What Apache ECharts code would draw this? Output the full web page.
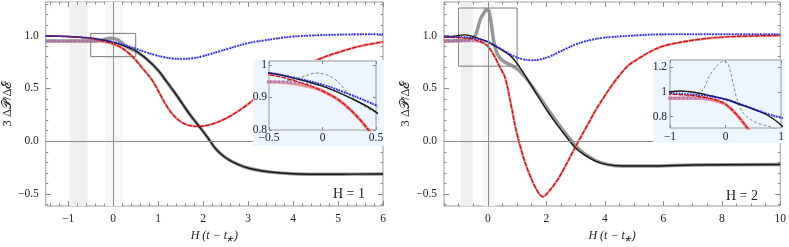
<!DOCTYPE html>
<html><head><meta charset="utf-8">
<script src="https://cdn.jsdelivr.net/npm/echarts@6/dist/echarts.min.js"></script>
<style>html,body{margin:0;padding:0;background:#fff}#c{width:789px;height:247px}</style>
</head><body><div id="c"></div>
<script>
// ---------- data ----------
// H = 1 panel
const blackL = [[-1.5,0.995],[-1,0.99],[-0.5,0.975],[-0.25,0.958],[0,0.935],[0.25,0.9],[0.5,0.855],[0.75,0.775],[1,0.67],[1.17,0.574],[1.35,0.47],[1.53,0.36],[1.7,0.255],[1.9,0.146],[2.1,0.035],[2.27,-0.067],[2.45,-0.14],[2.63,-0.19],[2.9,-0.24],[3.14,-0.268],[3.5,-0.292],[4,-0.308],[4.5,-0.312],[5,-0.312],[6,-0.31]];
const grayL = [[-1.5,0.948],[-0.5,0.948],[-0.35,0.95],[-0.2,0.962],[-0.06,0.975],[0.1,0.96],[0.25,0.91],[0.4,0.87],[0.5,0.852],[0.75,0.775],[1,0.67],[1.17,0.574],[1.35,0.47],[1.53,0.36],[1.7,0.255],[1.9,0.146],[2.1,0.035],[2.27,-0.067],[2.45,-0.14],[2.63,-0.19],[2.9,-0.24],[3.14,-0.268],[3.5,-0.292],[4,-0.308],[4.5,-0.312],[5,-0.312],[6,-0.31]];
const blueL = [[-1.5,0.995],[-1,0.99],[-0.5,0.976],[-0.25,0.96],[0,0.94],[0.25,0.91],[0.5,0.876],[0.75,0.838],[1,0.808],[1.25,0.786],[1.53,0.778],[1.8,0.787],[2,0.805],[2.5,0.868],[3,0.928],[3.3,0.95],[4,0.99],[5,1.008],[6,1.012]];
const blueThickL = [[-1.5,0.948],[-0.5,0.948],[-0.25,0.946],[0,0.937],[0.25,0.91],[0.5,0.876],[0.75,0.838],[1,0.808],[1.25,0.786],[1.53,0.778],[1.8,0.787],[2,0.805],[2.5,0.868],[3,0.928],[3.3,0.95],[4,0.99],[5,1.008],[6,1.012]];
const redL = [[-1.5,0.995],[-1,0.99],[-0.5,0.97],[-0.25,0.95],[0,0.92],[0.2,0.88],[0.43,0.8],[0.65,0.69],[0.87,0.574],[1.17,0.345],[1.35,0.24],[1.53,0.177],[1.7,0.148],[1.9,0.14],[2.1,0.15],[2.35,0.185],[2.63,0.245],[2.9,0.32],[3.14,0.4],[3.5,0.53],[4,0.665],[4.64,0.787],[5,0.84],[5.5,0.9],[6,0.94]];
const pinkL = [[-1.5,0.948],[-0.5,0.948],[-0.3,0.944],[-0.15,0.935],[0,0.92],[0.2,0.88],[0.43,0.8],[0.65,0.69],[0.87,0.574],[1.17,0.345],[1.35,0.24],[1.53,0.177],[1.7,0.148],[1.9,0.14],[2.1,0.15],[2.35,0.185],[2.63,0.245],[2.9,0.32],[3.14,0.4],[3.5,0.53],[4,0.665],[4.64,0.787],[5,0.84],[5.5,0.9],[6,0.94]];
// H = 2 panel
const blackR = [[-1.5,0.985],[-1.2,0.99],[-0.8,1.006],[-0.5,0.99],[-0.25,0.966],[0,0.94],[0.25,0.9],[0.5,0.86],[0.76,0.812],[1,0.735],[1.22,0.645],[1.5,0.52],[1.75,0.41],[2,0.3],[2.3,0.18],[2.56,0.085],[2.8,0.0],[3,-0.065],[3.3,-0.13],[3.7,-0.19],[4.1,-0.222],[4.6,-0.235],[5.5,-0.235],[7,-0.225],[10,-0.22]];
const grayR = [[-1.5,0.948],[-0.8,0.955],[-0.6,0.97],[-0.43,1.0],[-0.26,1.15],[-0.1,1.23],[-0.03,1.245],[0.05,1.22],[0.2,0.95],[0.3,0.84],[0.42,0.787],[0.6,0.745],[0.76,0.726],[0.95,0.695],[1.1,0.66],[1.3,0.6],[1.5,0.525],[1.75,0.425],[2,0.325],[2.3,0.205],[2.56,0.108],[2.8,0.025],[3,-0.045],[3.3,-0.118],[3.7,-0.185],[4.1,-0.22],[4.6,-0.235],[5.5,-0.235],[7,-0.225],[10,-0.22]];
const blueR = [[-1.5,0.99],[-1,0.988],[-0.5,0.975],[0,0.94],[0.4,0.88],[0.76,0.822],[1,0.792],[1.22,0.774],[1.5,0.766],[1.8,0.775],[2.1,0.8],[2.56,0.86],[3,0.915],[3.47,0.955],[4,0.98],[5,1.0],[5.75,1.01],[7,1.012],[10,1.012]];
const blueThickR = [[-1.5,0.948],[-0.5,0.948],[-0.2,0.945],[0,0.938],[0.4,0.88],[0.76,0.822],[1,0.792],[1.22,0.774],[1.5,0.766],[1.8,0.775],[2.1,0.8],[2.56,0.86],[3,0.915],[3.47,0.955],[4,0.98],[5,1.0],[5.75,1.01],[7,1.012],[10,1.012]];
const redR = [[-1.5,0.985],[-1,0.98],[-0.6,0.97],[-0.37,0.954],[-0.15,0.93],[0,0.9],[0.2,0.817],[0.42,0.695],[0.59,0.6],[0.78,0.36],[0.97,0.1],[1.2,-0.14],[1.42,-0.31],[1.65,-0.45],[1.88,-0.525],[2.1,-0.47],[2.35,-0.38],[2.56,-0.28],[2.85,-0.13],[3.1,0.0],[3.4,0.15],[3.7,0.3],[4.0,0.43],[4.27,0.54],[4.55,0.64],[4.84,0.725],[5.2,0.79],[5.5,0.84],[6,0.9],[7,0.955],[8,0.985],[9,0.995],[10,1.0]];
const pinkR = [[-1.5,0.948],[-0.5,0.948],[-0.3,0.94],[-0.1,0.918],[0,0.9],[0.2,0.817],[0.42,0.695],[0.59,0.6],[0.78,0.36],[0.97,0.1],[1.2,-0.14],[1.42,-0.31],[1.65,-0.45],[1.88,-0.525],[2.1,-0.47],[2.35,-0.38],[2.56,-0.28],[2.85,-0.13],[3.1,0.0],[3.4,0.15],[3.7,0.3],[4.0,0.43],[4.27,0.54],[4.55,0.64],[4.84,0.725],[5.2,0.79],[5.5,0.84],[6,0.9],[7,0.955],[8,0.985],[9,0.995],[10,1.0]];

// tick labels
const yTicksMain = [-0.5, 0, 0.5, 1.0];
const yLabelsMain = ['\u22120.5', '0.0', '0.5', '1.0'];
const xTicksL = [-1, 0, 1, 2, 3, 4, 5, 6];
const xLabelsL = ['\u22121', '0', '1', '2', '3', '4', '5', '6'];
const xTicksR = [0, 2, 4, 6, 8, 10];
const xLabelsR = ['0', '2', '4', '6', '8', '10'];
const xTicksInsL = [-0.5, 0, 0.5];
const xLabelsInsL = ['\u22120.5', '0', '0.5'];
const yTicksInsL = [0.8, 0.9, 1];
const yLabelsInsL = ['0.8', '0.9', '1'];
const xTicksInsR = [-1, 0, 1];
const xLabelsInsR = ['\u22121', '0', '1'];
const yTicksInsR = [0.8, 1, 1.2];
const yLabelsInsR = ['0.8', '1', '1.2'];
const panelLabels = ['H = 1', 'H = 2'];

// ---------- chart ----------
const FONT = "'Liberation Serif', 'Times New Roman', Times, serif";
const TICK = '#8a8a8a';
function steps(a, b, s) { const r = []; for (let v = Math.ceil(a / s - 1e-9) * s; v <= b + 1e-9; v += s) r.push(+v.toFixed(6)); return r; }
function fmt(vals, labels) { return v => { for (let i = 0; i < vals.length; i++) if (Math.abs(vals[i] - v) < 1e-6) return labels[i]; return ''; }; }

const grids = [], xAxes = [], yAxes = [], series = [];
function addPanel(cfg) {
  const g = grids.length;
  grids.push(Object.assign({ show: true, borderColor: '#9a9a9a', borderWidth: 1, backgroundColor: 'transparent', z: cfg.z }, cfg.rect));
  const xi = xAxes.length, yi = yAxes.length;
  const base = (min, max) => ({ gridIndex: g, type: 'value', min, max, z: cfg.z + 1, axisLine: { show: false, onZero: false }, splitLine: { show: false } });
  const tick = (vals, len) => ({ show: true, inside: true, length: len, customValues: vals, lineStyle: { color: TICK, width: 1 } });
  const lab = { fontFamily: FONT, fontSize: cfg.fs, color: '#222' };
  xAxes.push(Object.assign(base(cfg.xr[0], cfg.xr[1]), { position: 'bottom', offset: 0, axisTick: tick(cfg.xMaj, cfg.tl), axisLabel: Object.assign({ show: true, customValues: cfg.xMaj, formatter: fmt(cfg.xMaj, cfg.xLab), margin: cfg.lm }, lab), name: cfg.xName || '', nameLocation: 'middle', nameGap: 24, nameTextStyle: { fontFamily: FONT, fontSize: 12, fontStyle: 'italic', color: '#222' } }));
  xAxes.push(Object.assign(base(cfg.xr[0], cfg.xr[1]), { position: 'bottom', offset: 0, axisTick: tick(cfg.xMin, cfg.tl / 2), axisLabel: { show: false } }));
  xAxes.push(Object.assign(base(cfg.xr[0], cfg.xr[1]), { position: 'top', offset: 0, axisTick: tick(cfg.xMaj, cfg.tl), axisLabel: { show: false } }));
  xAxes.push(Object.assign(base(cfg.xr[0], cfg.xr[1]), { position: 'top', offset: 0, axisTick: tick(cfg.xMin, cfg.tl / 2), axisLabel: { show: false } }));
  yAxes.push(Object.assign(base(cfg.yr[0], cfg.yr[1]), { position: 'left', offset: 0, axisTick: tick(cfg.yMaj, cfg.tl), axisLabel: Object.assign({ show: true, customValues: cfg.yMaj, formatter: fmt(cfg.yMaj, cfg.yLab), margin: cfg.lm }, lab), name: cfg.yName || '', nameLocation: 'middle', nameGap: 24, nameTextStyle: { fontFamily: FONT, fontSize: 12.5, color: '#222' } }));
  yAxes.push(Object.assign(base(cfg.yr[0], cfg.yr[1]), { position: 'left', offset: 0, axisTick: tick(cfg.yMin, cfg.tl / 2), axisLabel: { show: false } }));
  yAxes.push(Object.assign(base(cfg.yr[0], cfg.yr[1]), { position: 'right', offset: 0, axisTick: tick(cfg.yMaj, cfg.tl), axisLabel: { show: false } }));
  yAxes.push(Object.assign(base(cfg.yr[0], cfg.yr[1]), { position: 'right', offset: 0, axisTick: tick(cfg.yMin, cfg.tl / 2), axisLabel: { show: false } }));
  return { xi, yi, z: cfg.z };
}
function line(p, data, style, z) {
  series.push({ type: 'line', xAxisIndex: p.xi, yAxisIndex: p.yi, data, smooth: 0.35, symbol: 'none', silent: true, z: p.z + (z || 2), lineStyle: style, clip: true });
}
function decor(p, marks) {
  series.push({ type: 'line', xAxisIndex: p.xi, yAxisIndex: p.yi, data: [], symbol: 'none', silent: true, z: p.z + 1,
    markArea: marks.areas ? { silent: true, data: marks.areas } : undefined,
    markLine: marks.lines ? { silent: true, symbol: 'none', label: { show: false }, lineStyle: { color: '#8c8c8c', width: 1, type: 'solid' }, data: marks.lines } : undefined });
}

const yrMain = [-0.613, 1.317];
const yName = '3 \u0394\uD835\uDCAB/\u0394\u2130';
const xName = 'H (t \u2212 t\u204E)';
const pL = addPanel({ rect: { left: 42, top: 2, width: 341, height: 211 }, z: 0, xr: [-1.5, 6], yr: yrMain, xMaj: xTicksL, xLab: xLabelsL, xMin: steps(-1.5, 6, 0.2), yMaj: yTicksMain, yLab: yLabelsMain, yMin: steps(-0.6, 1.3, 0.1), fs: 11.5, tl: 5, lm: 7, xName, yName });
const pR = addPanel({ rect: { left: 444, top: 2, width: 338, height: 211 }, z: 0, xr: [-1.5, 10], yr: yrMain, xMaj: xTicksR, xLab: xLabelsR, xMin: steps(-1.5, 10, 0.5), yMaj: yTicksMain, yLab: yLabelsMain, yMin: steps(-0.6, 1.3, 0.1), fs: 11.5, tl: 5, lm: 7, xName, yName });
const iL = addPanel({ rect: { left: 269, top: 61, width: 107, height: 69 }, z: 20, xr: [-0.5, 0.5], yr: [0.8, 1.012], xMaj: xTicksInsL, xLab: xLabelsInsL, xMin: [], yMaj: yTicksInsL, yLab: yLabelsInsL, yMin: [], fs: 11.5, tl: 3, lm: 2 });
const iR = addPanel({ rect: { left: 670, top: 60, width: 111, height: 68 }, z: 20, xr: [-1, 1], yr: [0.71, 1.254], xMaj: xTicksInsR, xLab: xLabelsInsR, xMin: [], yMaj: yTicksInsR, yLab: yLabelsInsR, yMin: [], fs: 11.5, tl: 3, lm: 3 });

decor(pL, { areas: [[{ xAxis: -0.97, itemStyle: { color: '#efefef' } }, { xAxis: -0.57 }], [{ xAxis: -0.18, itemStyle: { color: '#f7f7f7' } }, { xAxis: 0.21 }]], lines: [{ xAxis: 0 }, { yAxis: 0 }] });
decor(pR, { areas: [[{ xAxis: -0.93, itemStyle: { color: '#efefef' } }, { xAxis: -0.52 }], [{ xAxis: -0.17, itemStyle: { color: '#f7f7f7' } }, { xAxis: 0.23 }]], lines: [{ xAxis: 0 }, { yAxis: 0 }] });
decor(iL, { lines: [{ xAxis: 0 }] });
decor(iR, { lines: [{ xAxis: 0 }] });

const sThickGray = { color: 'rgba(125,125,125,0.8)', width: 3.4 };
const sPink = { color: 'rgba(238,110,115,0.6)', width: 2.6 };
const sBlueThick = { color: 'rgba(110,110,235,0.6)', width: 2.6, type: [2, 2] };
const sBlack = { color: '#151515', width: 1.4 };
const sBlue = { color: '#2020dd', width: 1.6, type: [1.6, 1.2] };
const sRed = { color: '#d01010', width: 1.4, type: [5, 1] };
const sGrayDash = { color: '#8a8a8a', width: 1, type: [3, 2] };

[[pL, blackL, grayL, blueL, blueThickL, redL, pinkL, false], [pR, blackR, grayR, blueR, blueThickR, redR, pinkR, false],
 [iL, blackL, grayL, blueL, blueThickL, redL, pinkL, true], [iR, blackR, grayR, blueR, blueThickR, redR, pinkR, true]].forEach(([p, bk, gy, bl, blt, rd, pk, inset]) => {
  line(p, gy, inset ? sGrayDash : sThickGray, 2);
  line(p, pk, inset ? { color: 'rgba(238,110,115,0.7)', width: 3.4 } : sPink, 2);
  line(p, blt, sBlueThick, 2);
  line(p, bk, sBlack, 3);
  line(p, rd, sRed, 3);
  line(p, bl, sBlue, 4);
});

series.push({ type: 'line', xAxisIndex: pL.xi, yAxisIndex: pL.yi, data: [], z: 8, markArea: { silent: true, itemStyle: { color: 'rgba(0,0,0,0)', borderColor: '#7a7a7a', borderWidth: 1 }, data: [[{ xAxis: -0.5, yAxis: 0.8 }, { xAxis: 0.5, yAxis: 1.02 }]] } });
series.push({ type: 'line', xAxisIndex: pR.xi, yAxisIndex: pR.yi, data: [], z: 8, markArea: { silent: true, itemStyle: { color: 'rgba(0,0,0,0)', borderColor: '#7a7a7a', borderWidth: 1 }, data: [[{ xAxis: -1, yAxis: 0.71 }, { xAxis: 1, yAxis: 1.26 }]] } });

const chart = echarts.init(document.getElementById('c'), null, { renderer: 'canvas' });
chart.setOption({
  animation: false,
  backgroundColor: '#ffffff',
  grid: grids, xAxis: xAxes, yAxis: yAxes, series,
  graphic: [
    { type: 'rect', z: 15, silent: true, shape: { x: 253, y: 60, width: 131, height: 86 }, style: { fill: '#edf5fd' } },
    { type: 'rect', z: 15, silent: true, shape: { x: 653, y: 59, width: 132, height: 84 }, style: { fill: '#edf5fd' } },
    { type: 'text', z: 30, left: 333, top: 187, style: { text: panelLabels[0], fontFamily: FONT, fontSize: 14, fill: '#222' } },
    { type: 'text', z: 30, left: 726, top: 189, style: { text: panelLabels[1], fontFamily: FONT, fontSize: 14, fill: '#222' } }
  ]
});
</script></body></html>
